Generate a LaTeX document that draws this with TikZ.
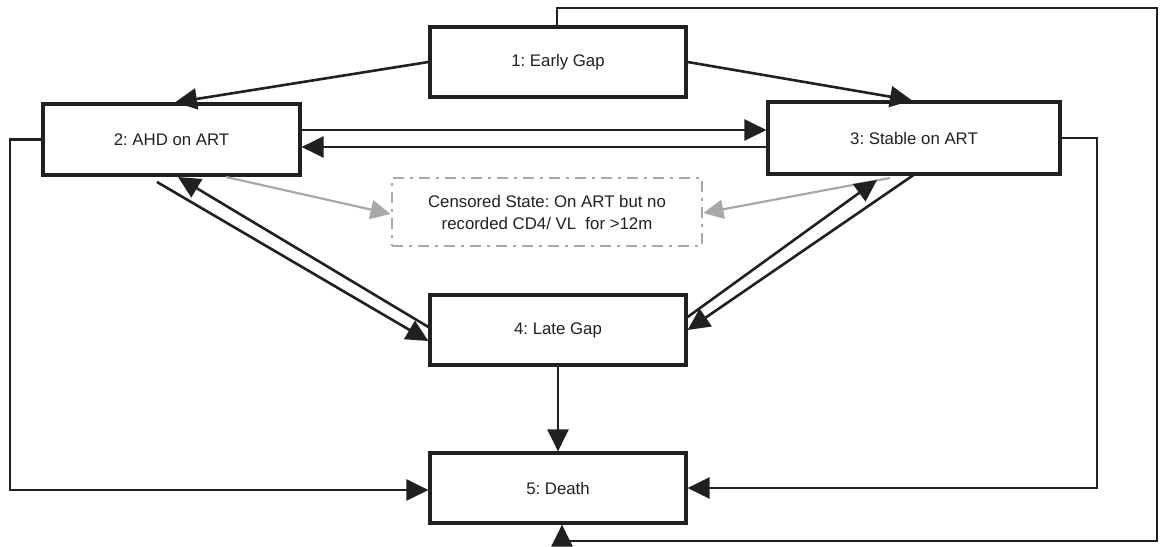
\documentclass[tikz,border=0pt]{standalone}
\usepackage{fontspec}
\setmainfont{Liberation Sans}
\usetikzlibrary{arrows.meta,calc}
\definecolor{ink}{HTML}{231F20}
\definecolor{cens}{HTML}{A8A8A8}
\frenchspacing
\begin{document}
\begin{tikzpicture}[x=1pt,y=-1pt,
  state/.style={draw=ink,line width=3.2pt,fill=white,minimum width=256pt,minimum height=70pt,inner sep=0pt,
     font=\fontsize{16.8}{20}\selectfont,text=ink},
  arr/.style={draw=ink,line width=2.6pt,-{Triangle[length=22pt,width=21pt]}},
  garr/.style={draw=cens,line width=2.2pt,-{Triangle[length=20pt,width=19pt]}},
  cbox/.style={draw=cens,line width=2.8pt,dash pattern=on 11pt off 6pt on 3pt off 6pt,minimum width=310pt,minimum height=68pt,
     align=center,font=\fontsize{16.8}{22}\selectfont,text=ink,inner sep=0pt}]
\useasboundingbox (0,0) rectangle (1161,546);
\node[state] (b1) at (558,62) {1: Early Gap};
\node[state,minimum width=257pt,minimum height=71pt] (b2) at (171.5,139.5) {2: AHD on ART};
\node[state,minimum width=292pt,minimum height=72pt] (b3) at (914,138) {3: Stable on ART};
\node[state] (b4) at (558,330) {4: Late Gap};
\node[state] (b5) at (558,488) {5: Death};
\node[cbox] (cs) at (547,212) {Censored State: On ART but no\\recorded CD4/ VL\ \ for >12m};
% 1 -> 2, 1 -> 3
\draw[arr] (b1.west) -- (b2.north -| 175,0);
\draw[arr] (b1.east) -- (b3.north -| 912,0);
% 2 <-> 3
\draw[arr] (b2.east |- 0,130) -- (b3.west |- 0,130);
\draw[arr] (b3.west |- 0,147) -- (b2.east |- 0,147);
% to censored
\coordinate (g2) at (226,177);
\coordinate (g3) at (890,178);
\draw[garr] (g2) -- (cs.west |- 0,214);
\draw[garr] (g3) -- (cs.east |- 0,213);
% 2 <-> 4
\coordinate (s24) at (157,182);
\coordinate (e24) at (178,177);
\draw[arr] (s24) -- (b4.west |- 0,341);
\draw[arr] (b4.west |- 0,327) -- (e24);
% 3 <-> 4
\coordinate (s34) at (915,174);
\coordinate (e34) at (877,180);
\draw[arr] (b4.east |- 0,317) -- (e34);
\draw[arr] (s34) -- (b4.east |- 0,330);
% 4 -> 5
\draw[arr] (b4.south) -- (b5.north);
% 2 -> 5
\draw[arr] (b2.west) -- (10,139.5) -- (10,490) -- (b5.west |- 0,490);
% 3 -> 5
\draw[arr] (b3.east) -- (1097,138) -- (1097,488) -- (b5.east);
% 1 -> 5
\draw[arr] (b1.north -| 557,0) -- (557,8) -- (1157,8) -- (1157,541) -- (562,541) -- (b5.south -| 562,0);
\end{tikzpicture}
\end{document}
